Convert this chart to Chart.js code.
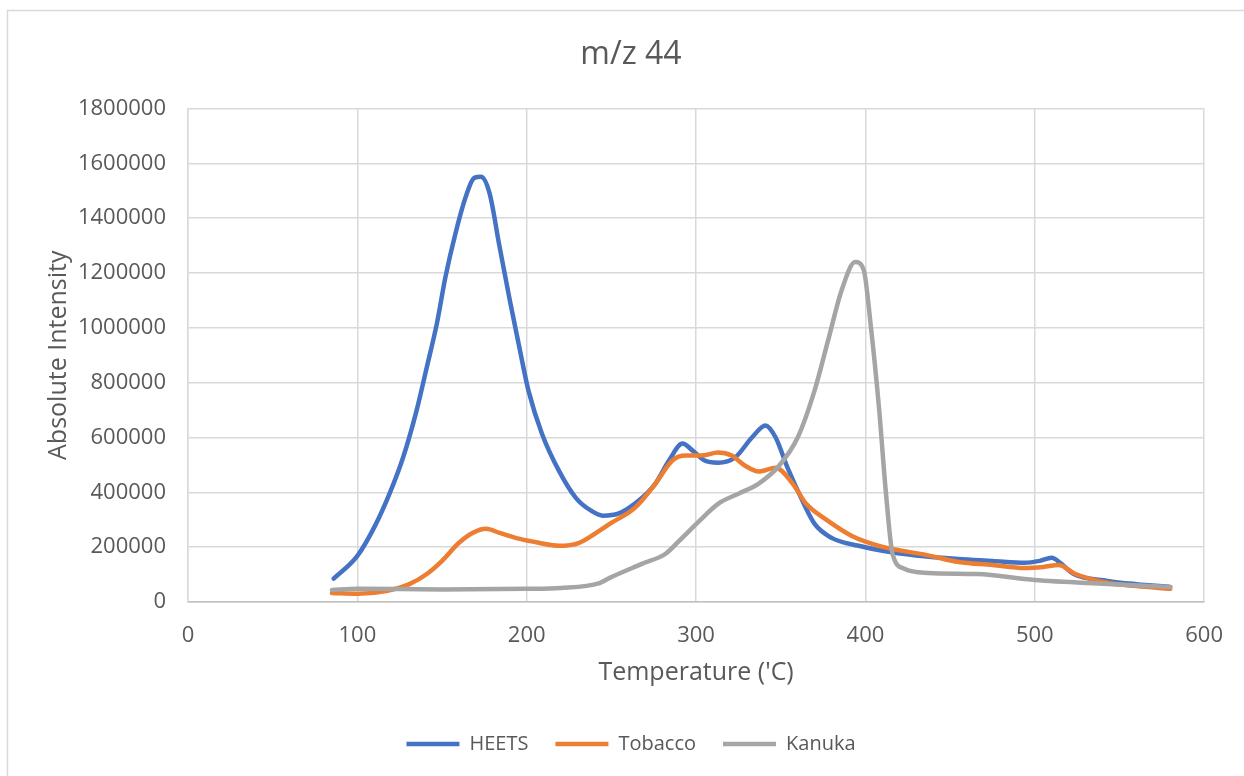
<!DOCTYPE html>
<html>
<head>
<meta charset="utf-8">
<title>m/z 44</title>
<script src="https://cdn.jsdelivr.net/npm/chart.js@4.4.1/dist/chart.umd.min.js"></script>
<style>
  html, body { margin: 0; padding: 0; background: #ffffff; }
  #wrap { width: 1244px; height: 776px; position: relative; }
</style>
</head>
<body>
<div id="wrap"><canvas id="chart" width="1244" height="776"></canvas></div>
<script>
// Ion current for m/z 44 against temperature, three samples
const chartTitle = 'm/z 44';
const xAxisTitle = "Temperature ('C)";
const yAxisTitle = 'Absolute Intensity';
const seriesNames = ['HEETS', 'Tobacco', 'Kanuka'];

const heetsTemp = [86, 100, 111, 119, 127, 135, 141, 147, 152, 158, 164, 169, 173, 178, 184, 190, 196, 201, 209, 219, 229, 238, 245, 254, 266, 276, 284, 292, 298, 305, 313, 323, 333, 341, 347, 354, 362, 370, 380, 396, 410, 430, 455, 475, 494, 503, 510, 515, 523, 543, 560, 580];
const heetsIntensity = [85000, 168000, 285000, 395000, 527000, 699000, 856000, 1017000, 1185000, 1346000, 1478000, 1547000, 1551000, 1492000, 1295000, 1101000, 918000, 772000, 614000, 479000, 380000, 333000, 315000, 322000, 369000, 432000, 516000, 578000, 552000, 516000, 508000, 527000, 600000, 644000, 600000, 490000, 380000, 285000, 234000, 205000, 187000, 170000, 157000, 150000, 143000, 150000, 161000, 143000, 102000, 77000, 65000, 55000];

const tobaccoTemp = [85, 100, 117, 131, 141, 150, 160, 168, 176, 184, 196, 207, 219, 231, 243, 249, 264, 276, 286, 294, 303, 313, 321, 329, 337, 347, 357, 365, 376, 392, 408, 437, 455, 475, 494, 505, 514, 524, 543, 560, 580];
const tobaccoIntensity = [33000, 30000, 40000, 66000, 102000, 150000, 216000, 252000, 267000, 252000, 230000, 216000, 205000, 216000, 260000, 285000, 344000, 432000, 516000, 534000, 534000, 545000, 534000, 497000, 476000, 490000, 432000, 358000, 304000, 241000, 205000, 170000, 146000, 135000, 124000, 128000, 135000, 102000, 70000, 58000, 48000];

const kanukaTemp = [85, 100, 150, 200, 220, 243, 249, 268, 282, 290, 302, 313, 325, 337, 349, 360, 370, 378, 386, 394, 399, 403, 408, 412, 416, 423, 437, 466, 500, 543, 580];
const kanukaIntensity = [44000, 48000, 46000, 48000, 51000, 69000, 88000, 139000, 176000, 223000, 296000, 358000, 395000, 432000, 497000, 600000, 772000, 955000, 1138000, 1240000, 1211000, 1017000, 710000, 406000, 176000, 121000, 106000, 102000, 80000, 66000, 55000];

const xTickStep = 100;
const yTickStep = 200000;

const toPoints = (xs, ys) => xs.map((x, i) => ({ x: x, y: ys[i] }));

const textColor = '#595959';
const gridColor = '#d9d9d9';
const fontFamily = "'Open Sans', 'Liberation Sans', sans-serif";

// white background and the light outer frame of the chart
const frame = {
  id: 'frame',
  beforeDraw(chart) {
    const ctx = chart.ctx;
    ctx.save();
    ctx.fillStyle = '#ffffff';
    ctx.fillRect(0, 0, chart.width, chart.height);
    ctx.strokeStyle = '#d9d9d9';
    ctx.lineWidth = 1.5;
    ctx.strokeRect(7.5, 10.5, chart.width + 10, chart.height + 10);
    ctx.restore();
  }
};

function lineSet(label, xs, ys, color, order) {
  return {
    label: label,
    data: toPoints(xs, ys),
    borderColor: color,
    backgroundColor: color,
    borderWidth: 4.5,
    borderCapStyle: 'round',
    borderJoinStyle: 'round',
    pointRadius: 0,
    pointHoverRadius: 0,
    cubicInterpolationMode: 'monotone',
    fill: false,
    order: order,
    yAxisID: 'y'
  };
}

new Chart(document.getElementById('chart'), {
  type: 'line',
  data: {
    datasets: [
      lineSet(seriesNames[0], heetsTemp, heetsIntensity, '#4472C4', 3),
      lineSet(seriesNames[1], tobaccoTemp, tobaccoIntensity, '#ED7D31', 2),
      lineSet(seriesNames[2], kanukaTemp, kanukaIntensity, '#A5A5A5', 1)
    ]
  },
  options: {
    responsive: false,
    animation: false,
    layout: { padding: { top: 27, left: 18, right: 0, bottom: 12 } },
    plugins: {
      title: {
        display: true,
        text: chartTitle,
        color: textColor,
        font: { family: fontFamily, size: 32, weight: 'normal' },
        padding: { top: 8.8, bottom: 34.3 }
      },
      legend: {
        position: 'bottom',
        labels: {
          color: textColor,
          font: { family: fontFamily, size: 20 },
          usePointStyle: true,
          pointStyle: 'line',
          pointStyleWidth: 53,
          boxHeight: 20,
          padding: 27,
          sort: (a, b) => a.datasetIndex - b.datasetIndex
        }
      },
      tooltip: { enabled: false }
    },
    scales: {
      x: {
        type: 'linear',
        min: 0,
        max: 600,
        ticks: {
          stepSize: xTickStep,
          color: textColor,
          font: { family: fontFamily, size: 22 },
          padding: 21,
          maxRotation: 0
        },
        grid: { color: gridColor, lineWidth: 1.5, drawTicks: false },
        border: { color: '#bfbfbf', width: 1.5 },
        title: {
          display: true,
          text: xAxisTitle,
          color: textColor,
          font: { family: fontFamily, size: 25 },
          padding: { top: 0, bottom: 19 }
        },
        afterFit(scale) { scale.height = 105; }
      },
      y: {
        type: 'linear',
        position: 'left',
        min: 0,
        max: 1800000,
        ticks: {
          stepSize: yTickStep,
          color: textColor,
          font: { family: fontFamily, size: 22 },
          padding: 22,
          callback: (v) => String(v)
        },
        grid: { color: gridColor, lineWidth: 1.5, drawTicks: false },
        border: { color: gridColor, width: 1.5 },
        title: {
          display: true,
          text: yAxisTitle,
          color: textColor,
          font: { family: fontFamily, size: 25 },
          padding: { top: 26, bottom: 0 }
        },
        afterFit(scale) { scale.width = 170; }
      },
      // empty right-hand margin beside the plot
      margin: {
        type: 'linear',
        position: 'right',
        display: true,
        ticks: { display: false },
        grid: { display: false, drawTicks: false },
        border: { display: false },
        afterFit(scale) { scale.width = 34; }
      }
    }
  },
  plugins: [frame]
});
</script>
</body>
</html>
